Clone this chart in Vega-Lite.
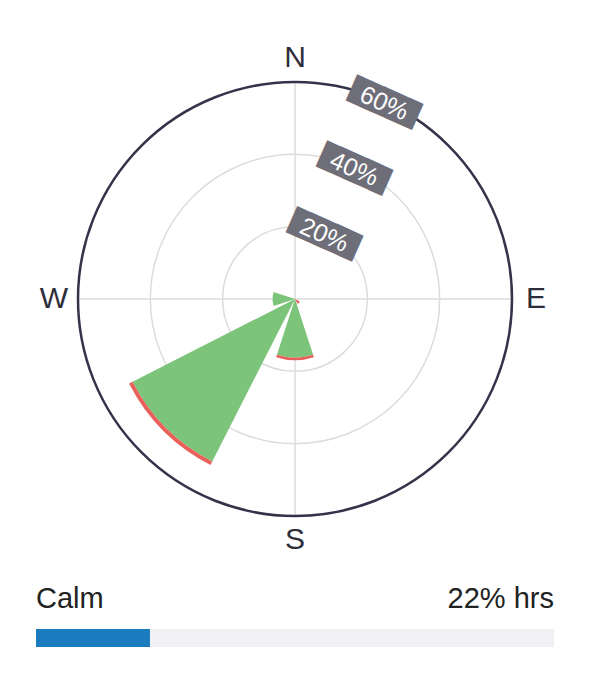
{
  "$schema": "https://vega.github.io/schema/vega-lite/v6.json",
  "background": "white",
  "padding": {"left": 3, "top": 19, "right": 2, "bottom": 32},
  "config": {"view": {"stroke": null}, "font": "Liberation Sans"},
  "spacing": 5,
  "center": true,
  "datasets": {
    "dirs": [
      {"dir": "N", "deg": 0, "reach": 60},
      {"dir": "E", "deg": 90, "reach": 60},
      {"dir": "S", "deg": 180, "reach": 60},
      {"dir": "W", "deg": 270, "reach": 60}
    ],
    "rings": [
      {"pct": 20, "label": "20%"},
      {"pct": 40, "label": "40%"},
      {"pct": 60, "label": "60%"}
    ],
    "wind": [
      {"dir": "S", "deg": 180, "band": "low", "from": 0, "to": 16.2},
      {"dir": "S", "deg": 180, "band": "high", "from": 16.2, "to": 16.9},
      {"dir": "SW", "deg": 225, "band": "low", "from": 0, "to": 50.4},
      {"dir": "SW", "deg": 225, "band": "high", "from": 50.4, "to": 51.5},
      {"dir": "W", "deg": 270, "band": "low", "from": 0, "to": 6.2},
      {"dir": "SE", "deg": 135, "band": "high", "from": 0, "to": 1.5}
    ],
    "calm": [{"label": "Calm", "pct": 22, "text": "22% hrs"}]
  },
  "vconcat": [
    {
      "width": 584,
      "height": 560,
      "layer": [
        {
          "data": {"name": "dirs"},
          "mark": {"type": "arc", "fill": "transparent", "stroke": "#dcdcdc", "strokeWidth": 1.5},
          "encoding": {
            "theta": {"field": "deg", "type": "quantitative", "stack": null, "scale": {"type": "linear", "domain": [0, 360], "range": [0, 6.283185307179586]}},
            "theta2": {"field": "deg"},
            "radius": {"field": "reach", "type": "quantitative", "scale": {"type": "linear", "domain": [0, 60], "range": [0, 217], "zero": true}}
          }
        },
        {
          "data": {"name": "rings"},
          "transform": [{"filter": "datum.pct < 60"}],
          "mark": {"type": "arc", "fill": "transparent", "stroke": "#dcdcdc", "strokeWidth": 1.5},
          "encoding": {
            "radius": {"field": "pct", "type": "quantitative", "stack": null, "scale": {"type": "linear", "domain": [0, 60], "range": [0, 217], "zero": true}}
          }
        },
        {
          "data": {"name": "wind"},
          "mark": {"type": "arc", "thetaOffset": -0.3141593, "theta2Offset": 0.3141593},
          "encoding": {
            "theta": {"field": "deg", "type": "quantitative", "stack": null, "scale": {"type": "linear", "domain": [0, 360], "range": [0, 6.283185307179586]}},
            "theta2": {"field": "deg"},
            "radius": {"field": "to", "type": "quantitative", "scale": {"type": "linear", "domain": [0, 60], "range": [0, 217], "zero": true}},
            "radius2": {"field": "from"},
            "color": {"field": "band", "type": "nominal", "scale": {"domain": ["low", "high"], "range": ["#7dc47b", "#e9605b"]}, "legend": null}
          }
        },
        {
          "data": {"name": "rings"},
          "transform": [{"filter": "datum.pct == 60"}],
          "mark": {"type": "arc", "fill": "transparent", "stroke": "#33334a", "strokeWidth": 2.5},
          "encoding": {
            "radius": {"field": "pct", "type": "quantitative", "stack": null, "scale": {"type": "linear", "domain": [0, 60], "range": [0, 217], "zero": true}}
          }
        },
        {
          "data": {"name": "dirs"},
          "mark": {"type": "text", "fontSize": 30, "color": "#2e2e3a", "align": "center", "baseline": "middle", "radiusOffset": 24},
          "encoding": {
            "theta": {"field": "deg", "type": "quantitative", "scale": {"type": "linear", "domain": [0, 360], "range": [0, 6.283185307179586]}},
            "radius": {"field": "reach", "type": "quantitative", "scale": {"type": "linear", "domain": [0, 60], "range": [0, 217], "zero": true}},
            "text": {"field": "dir"}
          }
        },
        {
          "data": {"name": "rings"},
          "mark": {"type": "text", "font": "DejaVu Sans Mono", "fontSize": 24, "color": "#6e6e79", "align": "center", "baseline": "middle", "angle": 24, "theta": 0.4276, "radiusOffset": -2},
          "encoding": {
            "radius": {"field": "pct", "type": "quantitative", "scale": {"type": "linear", "domain": [0, 60], "range": [0, 217], "zero": true}},
            "text": {"value": "█████"}
          }
        },
        {
          "data": {"name": "rings"},
          "mark": {"type": "text", "fontSize": 25, "color": "white", "align": "center", "baseline": "middle", "angle": 24, "theta": 0.4276, "radiusOffset": -2},
          "encoding": {
            "radius": {"field": "pct", "type": "quantitative", "scale": {"type": "linear", "domain": [0, 60], "range": [0, 217], "zero": true}},
            "text": {"field": "label"}
          }
        }
      ]
    },
    {
      "width": 518,
      "height": 60,
      "data": {"name": "calm"},
      "layer": [
        {
          "mark": {"type": "rect", "color": "#f0f0f5"},
          "encoding": {
            "x": {"datum": 0, "type": "quantitative", "scale": {"domain": [0, 100]}, "axis": null},
            "x2": {"datum": 100},
            "y": {"datum": 0, "type": "quantitative", "scale": {"domain": [0, 10]}, "axis": null},
            "y2": {"datum": 3}
          }
        },
        {
          "mark": {"type": "rect", "color": "#1b7bbf"},
          "encoding": {
            "x": {"field": "pct", "type": "quantitative", "scale": {"domain": [0, 100]}, "axis": null},
            "x2": {"datum": 0},
            "y": {"datum": 0, "type": "quantitative", "scale": {"domain": [0, 10]}, "axis": null},
            "y2": {"datum": 3}
          }
        },
        {
          "mark": {"type": "text", "align": "left", "baseline": "middle", "fontSize": 29, "color": "#222222"},
          "encoding": {
            "x": {"datum": 0, "type": "quantitative", "scale": {"domain": [0, 100]}, "axis": null},
            "y": {"datum": 8.0, "type": "quantitative", "scale": {"domain": [0, 10]}, "axis": null},
            "text": {"field": "label"}
          }
        },
        {
          "mark": {"type": "text", "align": "right", "baseline": "middle", "fontSize": 29, "color": "#222222"},
          "encoding": {
            "x": {"datum": 100, "type": "quantitative", "scale": {"domain": [0, 100]}, "axis": null},
            "y": {"datum": 8.0, "type": "quantitative", "scale": {"domain": [0, 10]}, "axis": null},
            "text": {"field": "text"}
          }
        }
      ]
    }
  ]
}
